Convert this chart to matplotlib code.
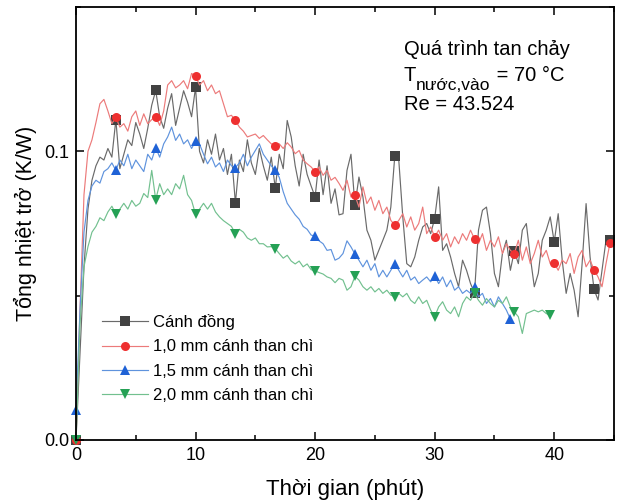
import numpy as np
import matplotlib
matplotlib.use("Agg")
import matplotlib.pyplot as plt
from matplotlib.ticker import MultipleLocator, FormatStrFormatter

plt.rcParams['font.family'] = ['Liberation Sans', 'DejaVu Sans']

# time step of the recording (min)
dt = 1.0 / 3.0

labels = ["Cánh đồng", "1,0 mm cánh than chì", "1,5 mm cánh than chì", "2,0 mm cánh than chì"]

copper = [
    0.0, 0.030, 0.060, 0.080, 0.090, 0.095, 0.098, 0.097, 0.101, 0.098,
    0.111, 0.094, 0.099, 0.104, 0.102, 0.110, 0.106, 0.101, 0.108, 0.116,
    0.1211, 0.112, 0.108, 0.115, 0.120, 0.109, 0.115, 0.121, 0.117, 0.112,
    0.1222, 0.100, 0.096, 0.104, 0.099, 0.106, 0.097, 0.101, 0.092, 0.099,
    0.0821, 0.097, 0.093, 0.104, 0.096, 0.092, 0.101, 0.095, 0.090, 0.098,
    0.0873, 0.099, 0.094, 0.1107, 0.105, 0.095, 0.088, 0.099, 0.092, 0.088,
    0.0842, 0.097, 0.085, 0.095, 0.082, 0.087, 0.078, 0.0784, 0.0934, 0.099,
    0.0813, 0.0911, 0.0842, 0.0727, 0.0692, 0.0623, 0.0657, 0.0692, 0.0727, 0.0807,
    0.0985, 0.0969, 0.0773, 0.0611, 0.060, 0.0634, 0.0692, 0.0738, 0.075, 0.0715,
    0.0767, 0.0877, 0.0657, 0.068, 0.0634, 0.0577, 0.0531, 0.0623, 0.0588, 0.0542,
    0.051, 0.0727, 0.0796, 0.0807, 0.0715, 0.0577, 0.0531, 0.0646, 0.0692, 0.0588,
    0.0655, 0.0611, 0.0727, 0.075, 0.0634, 0.0531, 0.0577, 0.0692, 0.0727, 0.0773,
    0.0686, 0.0784, 0.0623, 0.0508, 0.0577, 0.0519, 0.0427, 0.0611, 0.0819, 0.0634,
    0.0522, 0.0485, 0.0588, 0.0692, 0.0692,
]

graphite10 = [
    0.0, 0.045, 0.085, 0.100, 0.104, 0.110, 0.1165, 0.118, 0.114, 0.1096,
    0.1118, 0.1084, 0.1096, 0.107, 0.112, 0.114, 0.109, 0.113, 0.1096, 0.111,
    0.112, 0.109, 0.114, 0.123, 0.1245, 0.122, 0.123, 0.1245, 0.1217, 0.127,
    0.126, 0.123, 0.1245, 0.121, 0.123, 0.120, 0.121, 0.1165, 0.112, 0.1125,
    0.1107, 0.1084, 0.107, 0.105, 0.1055, 0.106, 0.1045, 0.1055, 0.104, 0.1026,
    0.102, 0.1026, 0.101, 0.103, 0.1015, 0.0992, 0.1003, 0.097, 0.0957, 0.0946,
    0.093, 0.0946, 0.0917, 0.0934, 0.090, 0.091, 0.0889, 0.0865, 0.090, 0.0842,
    0.0848, 0.0807, 0.0877, 0.0819, 0.0842, 0.0796, 0.083, 0.0784, 0.0807, 0.0761,
    0.0744, 0.0761, 0.0784, 0.0738, 0.0773, 0.0727, 0.075, 0.0807, 0.0715, 0.0738,
    0.0704, 0.0727, 0.0692, 0.0715, 0.0669, 0.0704, 0.068, 0.0715, 0.0692, 0.0727,
    0.0696, 0.068, 0.0715, 0.0657, 0.0692, 0.0669, 0.0704, 0.0646, 0.068, 0.0657,
    0.0646, 0.0692, 0.0623, 0.0669, 0.0611, 0.0646, 0.0692, 0.0634, 0.0657, 0.0611,
    0.0613, 0.0588, 0.0623, 0.0611, 0.0646, 0.0577, 0.0634, 0.0657, 0.060, 0.0623,
    0.059, 0.0565, 0.0531, 0.0611, 0.0683,
]

graphite15 = [
    0.0104, 0.045, 0.072, 0.083, 0.088, 0.090, 0.089, 0.093, 0.094, 0.096,
    0.0934, 0.097, 0.095, 0.099, 0.094, 0.097, 0.095, 0.093, 0.099, 0.097,
    0.1013, 0.098, 0.1026, 0.105, 0.1084, 0.1038, 0.106, 0.1026, 0.104, 0.101,
    0.1036, 0.1025, 0.099, 0.0957, 0.098, 0.0946, 0.096, 0.093, 0.097, 0.095,
    0.0944, 0.096, 0.099, 0.095, 0.098, 0.1003, 0.1026, 0.099, 0.097, 0.095,
    0.0934, 0.091, 0.086, 0.082, 0.080, 0.078, 0.0765, 0.074, 0.073, 0.071,
    0.0706, 0.069, 0.068, 0.0657, 0.066, 0.0623, 0.063, 0.0646, 0.069, 0.0669,
    0.0644, 0.0623, 0.060, 0.0623, 0.0588, 0.0611, 0.0565, 0.0588, 0.0565, 0.0588,
    0.0611, 0.0588, 0.0565, 0.0588, 0.0554, 0.0565, 0.0542, 0.0554, 0.0565, 0.0548,
    0.0569, 0.0542, 0.0565, 0.0531, 0.0554, 0.0519, 0.0531, 0.0508, 0.0519, 0.0508,
    0.0531, 0.0496, 0.0508, 0.0473, 0.049, 0.0461, 0.0496, 0.0473, 0.045, 0.0419,
]

graphite20 = [
    0.0, 0.040, 0.060, 0.067, 0.072, 0.074, 0.077, 0.076, 0.079, 0.081,
    0.0782, 0.080, 0.082, 0.080, 0.083, 0.081, 0.082, 0.0854, 0.084, 0.0934,
    0.0833, 0.0888, 0.085, 0.087, 0.085, 0.0888, 0.087, 0.0917, 0.085, 0.083,
    0.0782, 0.080, 0.082, 0.080, 0.082, 0.079, 0.0773, 0.076, 0.075, 0.074,
    0.0715, 0.073, 0.072, 0.070, 0.0692, 0.070, 0.068, 0.068, 0.0669, 0.067,
    0.0663, 0.0646, 0.063, 0.064, 0.062, 0.061, 0.062, 0.060, 0.061, 0.059,
    0.0586, 0.058, 0.0575, 0.0565, 0.056, 0.0545, 0.056, 0.0554, 0.0519, 0.0531,
    0.0567, 0.0554, 0.0531, 0.0519, 0.0531, 0.0513, 0.0525, 0.0508, 0.0519, 0.0502,
    0.0496, 0.0508, 0.0496, 0.0508, 0.0484, 0.0473, 0.0496, 0.0473, 0.0484, 0.045,
    0.0427, 0.0461, 0.0479, 0.045, 0.0438, 0.0461, 0.0427, 0.0473, 0.0496, 0.0484,
    0.0508, 0.0484, 0.0467, 0.049, 0.0473, 0.0461, 0.0484, 0.0473, 0.0496, 0.0461,
    0.0444, 0.0427, 0.0369, 0.0438, 0.0444, 0.045, 0.0444, 0.045, 0.0438, 0.0433,
]

series = [copper, graphite10, graphite15, graphite20]
line_colors = ['#6a6a6a', '#ec7a7a', '#5f93dd', '#72c08f']
marker_colors = ['#424242', '#ee3030', '#1f62d6', '#25a155']
markers = ['s', 'o', '^', 'v']

fig = plt.figure(figsize=(6.18, 5.04), dpi=100)
ax = fig.add_axes([0.123, 0.127, 0.8705, 0.859])

for vals, lc, mc, mk, lab in zip(series, line_colors, marker_colors, markers, labels):
    n = len(vals)
    t = np.arange(n) * dt
    me = list(range(0, n, 10))
    if me[-1] != n - 1:
        me.append(n - 1)
    ax.plot(t, vals, color=lc, lw=0.85, marker=mk, markevery=me,
            markersize=6.5, markerfacecolor=mc, markeredgecolor=mc,
            markeredgewidth=0, label=lab, clip_on=False)

ax.set_xlim(0, 45)
ax.set_ylim(0, 0.15)
ax.xaxis.set_major_locator(MultipleLocator(10))
ax.xaxis.set_minor_locator(MultipleLocator(5))
ax.yaxis.set_major_locator(MultipleLocator(0.1))
ax.yaxis.set_minor_locator(MultipleLocator(0.05))
ax.yaxis.set_major_formatter(FormatStrFormatter('%.1f'))
ax.tick_params(which='both', direction='in', top=True, right=True,
               labelsize=13, width=1.1, pad=5)
ax.tick_params(which='major', length=6)
ax.tick_params(which='minor', length=3.5)
for s in ax.spines.values():
    s.set_linewidth(1.3)
    s.set_zorder(5)

ax.set_xlabel('Thời gian (phút)', fontsize=16, labelpad=11)
ax.set_ylabel('Tổng nhiệt trở (K/W)', fontsize=15.5, labelpad=5)

# annotation block
fs_main = 14.5
ax.text(0.609, 0.903, 'Quá trình tan chảy', transform=ax.transAxes,
        fontsize=fs_main, va='center', ha='left')
t_T = ax.text(0.609, 0.841, 'T', transform=ax.transAxes,
              fontsize=fs_main, va='center', ha='left')
ax.text(0.609, 0.775, 'Re = 43.524', transform=ax.transAxes,
        fontsize=fs_main, va='center', ha='left')

fig.canvas.draw()
renderer = fig.canvas.get_renderer()
bb = t_T.get_window_extent(renderer)
inv = ax.transAxes.inverted()
x_sub, _ = inv.transform((bb.x1, bb.y0))
t_sub = ax.text(x_sub, 0.841 - 0.022, 'nước,vào', transform=ax.transAxes,
                fontsize=12.5, va='center', ha='left')
fig.canvas.draw()
bb2 = t_sub.get_window_extent(renderer)
x_rest, _ = inv.transform((bb2.x1, bb2.y0))
ax.text(x_rest, 0.841, ' = 70 °C', transform=ax.transAxes,
        fontsize=fs_main, va='center', ha='left')

leg = ax.legend(loc='upper left', bbox_to_anchor=(0.02, 0.325), frameon=False,
                fontsize=12, handlelength=2.8, labelspacing=0.55,
                handletextpad=0.3)

fig.savefig('out.png', dpi=100)
